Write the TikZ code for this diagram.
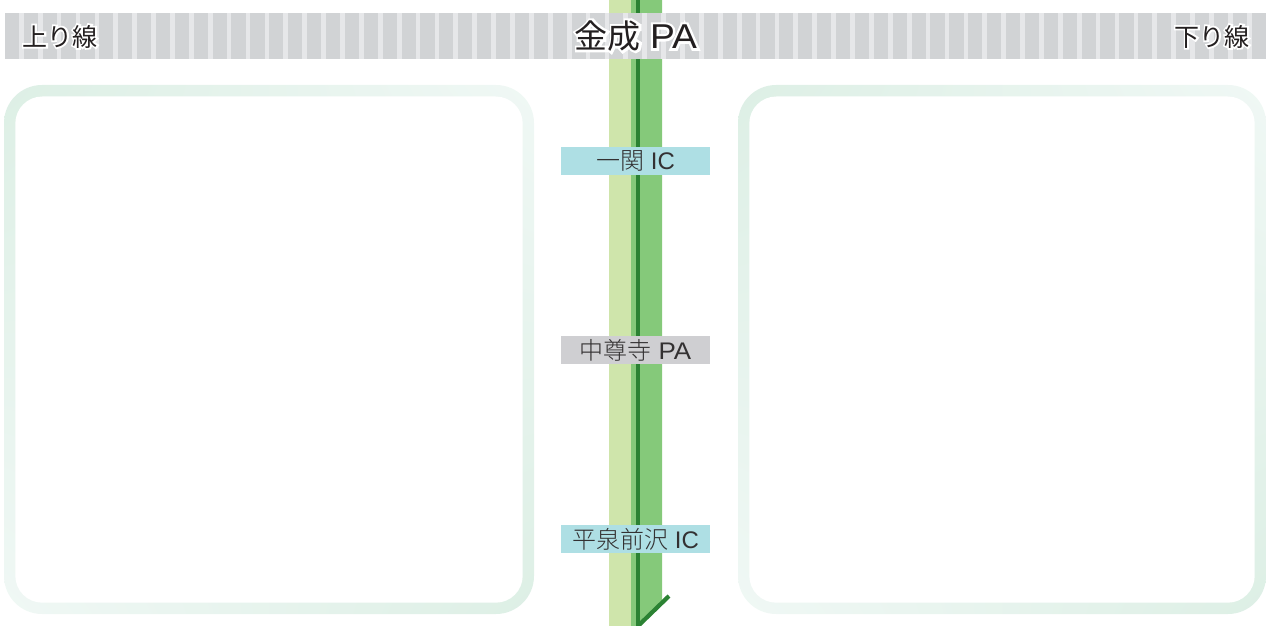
\documentclass[tikz,border=0pt]{standalone}
\usepackage{fontspec}
\usetikzlibrary{shadings}
\setmainfont{Liberation Sans}
\newfontfamily\cjk{Noto Sans CJK JP Light}
\newfontfamily\cjkmain{Noto Sans CJK JP}
\newfontfamily\cjkhalo[FakeBold=14]{Noto Sans CJK JP}
\newfontfamily\latinfont[FakeStretch=1.08]{Liberation Sans}
\newfontfamily\latinhalo[FakeStretch=1.08,FakeBold=14]{Liberation Sans}
\definecolor{bandgrey}{HTML}{D1D3D5}
\definecolor{bandlight}{HTML}{E6E7E9}
\definecolor{roadpale}{HTML}{CFE5AB}
\definecolor{roadmid}{HTML}{85C97A}
\definecolor{roaddark}{HTML}{2B8233}
\definecolor{icblue}{HTML}{AEDFE4}
\definecolor{pagrey}{HTML}{CFCFD2}
\definecolor{ringdark}{HTML}{DDEFE5}
\definecolor{ringlight}{HTML}{F0F8F5}
\definecolor{inkdark}{HTML}{231F20}
\definecolor{inklabel}{HTML}{333132}
\newcommand{\halotext}[1]{\leavevmode\rlap{\textcolor{white}{\let\cjkmain\cjkhalo\let\latinfont\latinhalo #1}}#1}
\tikzset{
  x=1bp,y=-1bp,
  every node/.style={inner sep=0pt,outer sep=0pt},
  headtext/.style={text=inkdark,anchor=center},
  stationbox/.style={minimum width=149bp,minimum height=28bp,text=inklabel,anchor=center,font=\fontsize{24bp}{28bp}\selectfont},
  icbox/.style={stationbox,fill=icblue},
  pabox/.style={stationbox,fill=pagrey},
  ring/.style={rounded corners=38bp,upper left=ringdark,lower right=ringdark,upper right=ringlight,lower left=ringlight},
  ringhole/.style={fill=white,rounded corners=27bp},
}
\begin{document}
\begin{tikzpicture}
\useasboundingbox (0,0) rectangle (1266,626);
% road
\fill[roadpale] (609,0) rectangle (631,626);
\fill[roadmid] (631,0) -- (662,0) -- (662,603) -- (638,626) -- (631,626) -- cycle;
\fill[roaddark] (636,0) rectangle (640,626);
\draw[roaddark,line width=4.2bp] (638,626) -- (669,596);
% band
\fill[bandgrey] (5,13) rectangle (1266,59);
\foreach \i in {0,...,66}{
  \fill[bandlight] ({19+18.89*\i},13) rectangle ++(4.7,46);
}
% panels
\shade[ring] (4,85) rectangle (534,614);
\fill[ringhole] (15.3,96.5) rectangle (522.7,602.7);
\shade[ring] (738,85) rectangle (1266,614);
\fill[ringhole] (749.3,96.5) rectangle (1254.7,602.7);
% labels
\node[headtext,font=\fontsize{25bp}{28bp}\selectfont] (up) at (60,36.5) {\halotext{\cjkmain 上り線}};
\node[headtext,font=\fontsize{25bp}{28bp}\selectfont] (down) at (1212,36.5) {\halotext{\cjkmain 下り線}};
\node[headtext,font=\fontsize{33bp}{36bp}\selectfont] (main) at (636,36) {\halotext{{\cjkmain 金成} {\latinfont\fontsize{34.5bp}{36bp}\selectfont PA}}};
\node[icbox] (ichinoseki) at (635.5,161) {{\cjk 一関} IC};
\node[pabox] (chuson) at (635.5,350) {{\cjk 中尊寺} {\latinfont PA}};
\node[icbox] (hiraizumi) at (635.5,539) {{\cjk 平泉前沢} IC};
\end{tikzpicture}
\end{document}
